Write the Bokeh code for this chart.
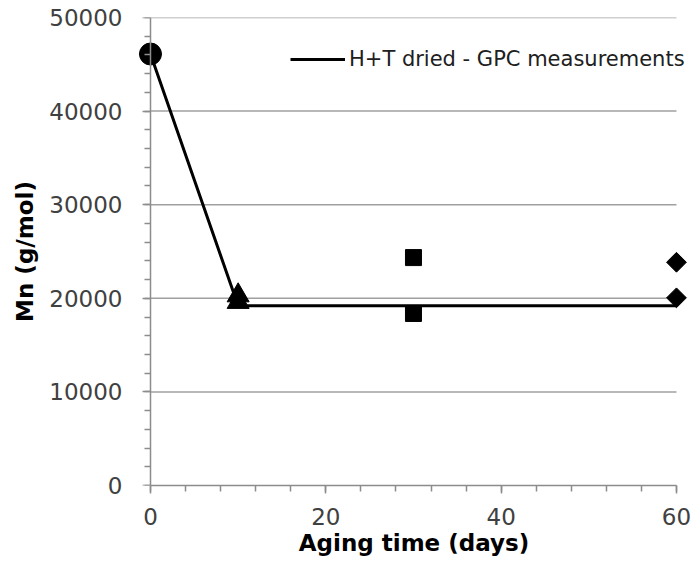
import numpy as np
from bokeh.plotting import figure
from bokeh.models import Range1d, SingleIntervalTicker, Legend, LegendItem, LinearAxis
from bokeh.embed import file_html
from bokeh.resources import INLINE

# Data
circle_x = [0]
circle_y = [46100]
tri_x = [10, 10]
tri_y = [20300, 19600]
sq_x = [30, 30]
sq_y = [24350, 18380]
dia_x = [60, 60]
dia_y = [23850, 20050]
fit_x = [0, 10, 60]
fit_y = [46100, 19200, 19200]
grid_values = [10000, 20000, 30000, 40000, 50000]
x_start, x_end = 0, 60
legend_label = "H+T dried - GPC measurements"
x_title = "Aging time (days)"
y_title = "Mn (g/mol)"

FONT = "DejaVu Sans"
AXIS_GRAY = "#8C8C8C"

p = figure(width=691, height=569, output_backend="svg", toolbar_location=None,
           x_range=Range1d(-1.48, 61.6), y_range=Range1d(0, 50000),
           min_border_left=137, min_border_right=1, min_border_top=17,
           min_border_bottom=84)
p.outline_line_color = None
p.background_fill_color = "white"
p.xgrid.grid_line_color = None
p.ygrid.grid_line_color = None

# horizontal gridlines limited to the 0..60 span
p.segment(x0=[x_start] * len(grid_values), x1=[x_end] * len(grid_values),
          y0=grid_values, y1=grid_values, line_color="#A0A0A0", line_width=1.5)

# x axis
xa = p.xaxis[0]
xa.ticker = SingleIntervalTicker(interval=20, num_minor_ticks=5)
xa.bounds = (x_start, x_end)
xa.axis_label = x_title
xa.axis_label_standoff = 2
xa.major_label_standoff = 14

# y axis line + ticks, placed at x = 0 (its own labels are not drawn)
ya = p.yaxis[0]
ya.ticker = SingleIntervalTicker(interval=10000, num_minor_ticks=5)
ya.fixed_location = 0
ya.major_label_text_color = None
ya.major_label_standoff = 0

for ax in (xa, ya):
    ax.axis_line_color = AXIS_GRAY
    ax.axis_line_width = 1.5
    ax.major_tick_line_color = AXIS_GRAY
    ax.minor_tick_line_color = AXIS_GRAY
    ax.major_tick_line_width = 1.5
    ax.minor_tick_line_width = 1.5
    ax.major_tick_in = 0
    ax.minor_tick_in = 0
    ax.major_tick_out = 8
    ax.minor_tick_out = 6
xa.major_label_text_font = FONT
xa.major_label_text_font_size = "23px"
xa.major_label_text_color = "#404040"
xa.axis_label_text_font = FONT
xa.axis_label_text_font_size = "23px"
xa.axis_label_text_font_style = "bold"
xa.axis_label_text_color = "black"

# y tick labels and title (outside the frame)
yl = LinearAxis(ticker=SingleIntervalTicker(interval=10000),
                axis_line_color=None, major_tick_line_color=None,
                minor_tick_line_color=None, major_tick_in=0, major_tick_out=0,
                minor_tick_in=0, minor_tick_out=0,
                major_label_standoff=15,
                major_label_text_font=FONT, major_label_text_font_size="23px",
                major_label_text_color="#404040",
                axis_label=y_title, axis_label_standoff=8,
                axis_label_text_font=FONT, axis_label_text_font_size="23px",
                axis_label_text_font_style="bold", axis_label_text_color="black")
p.add_layout(yl, "left")

# line
ln = p.line(fit_x, fit_y, line_color="black", line_width=3)

# markers
p.scatter(circle_x, circle_y, marker="circle", size=22, color="black")
p.scatter(tri_x, tri_y, marker="triangle", size=22, color="black")
p.scatter(sq_x, sq_y, marker="square", size=16, color="black")
p.scatter(dia_x, dia_y, marker="square", angle=np.pi / 4, size=14, color="black")

legend = Legend(items=[LegendItem(label=legend_label, renderers=[ln])],
                location=(153, 414), border_line_color=None,
                background_fill_alpha=0, padding=0, margin=0,
                glyph_width=55, glyph_height=20, label_standoff=4,
                label_text_font=FONT, label_text_font_size="21px",
                label_text_color="#202020")
p.add_layout(legend)

open("out.html", "w").write(file_html(p, INLINE))
